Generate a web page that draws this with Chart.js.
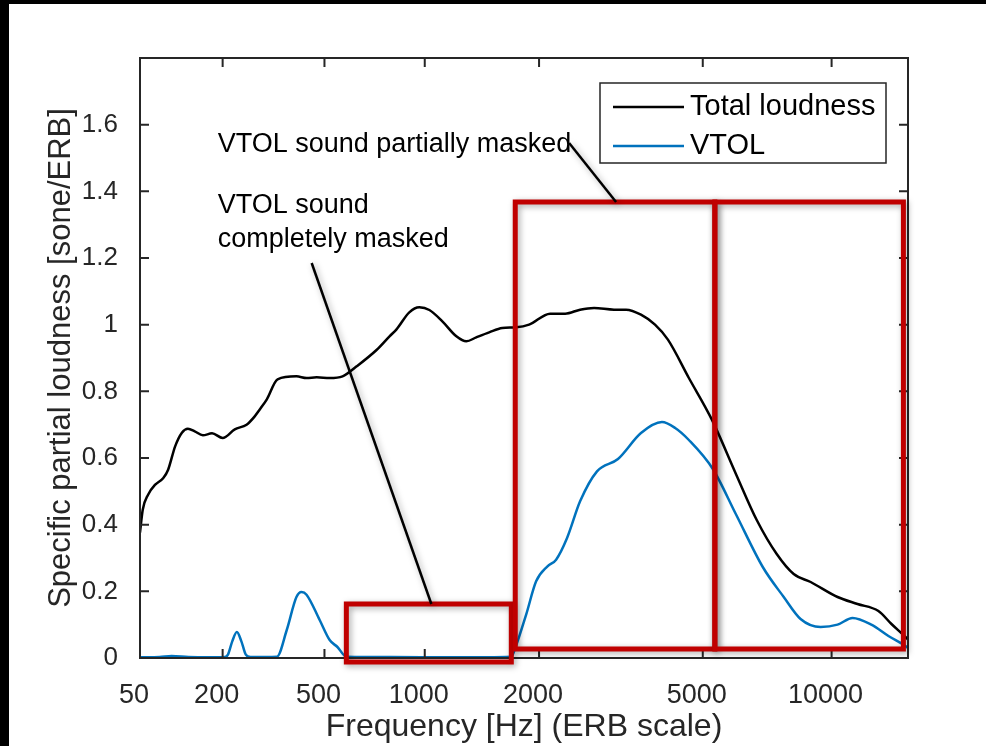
<!DOCTYPE html>
<html>
<head>
<meta charset="utf-8">
<script src="https://cdn.jsdelivr.net/npm/chart.js@4/dist/chart.umd.min.js"></script>
<style>
  html, body { margin: 0; padding: 0; background: #fff; }
  #chart { display: block; }
</style>
</head>
<body>
<canvas id="chart" width="986" height="746"></canvas>
<script>
// ===== DATA =====
const xTickFreqs = [50, 200, 500, 1000, 2000, 5000, 10000];
const yTicks = [0, 0.2, 0.4, 0.6, 0.8, 1, 1.2, 1.4, 1.6];

const totalFreq = [50, 54, 62, 73, 86, 94, 106, 118, 129, 142, 158, 177, 200, 228, 257, 278, 291, 311, 342, 401, 435, 471, 520, 572, 633, 727, 794, 832, 905, 966, 1030, 1118, 1220, 1297, 1378, 1490, 1611, 1750, 1887, 2132, 2325, 2531, 2740, 3065, 3277, 3561, 3848, 4132, 4635, 5254, 5982, 6697, 7457, 8168, 8943, 10322, 11478, 12827, 13744, 14800, 15000];
const totalLoudness = [0.376, 0.445, 0.49, 0.52, 0.54, 0.565, 0.635, 0.676, 0.688, 0.68, 0.668, 0.674, 0.66, 0.686, 0.70, 0.725, 0.745, 0.776, 0.836, 0.845, 0.84, 0.842, 0.84, 0.845, 0.875, 0.924, 0.965, 0.986, 1.037, 1.052, 1.044, 1.01, 0.965, 0.95, 0.962, 0.977, 0.99, 0.992, 1.0, 1.033, 1.033, 1.045, 1.05, 1.045, 1.045, 1.03, 1.0, 0.955, 0.84, 0.715, 0.553, 0.414, 0.312, 0.252, 0.228, 0.183, 0.162, 0.141, 0.102, 0.063, 0.055];

const vtolFreq = [50, 80, 100, 130, 170, 205, 212, 222, 233, 244, 255, 267, 340, 370, 401, 418, 435, 482, 520, 551, 588, 800, 1200, 1700, 1740, 1855, 1966, 2100, 2207, 2350, 2531, 2785, 3133, 3561, 3998, 4300, 4635, 5282, 5982, 6918, 7743, 8473, 9431, 10322, 11180, 12352, 13524, 14800, 15000];
const vtolLoudness = [0.002, 0.003, 0.006, 0.003, 0.002, 0.003, 0.01, 0.05, 0.078, 0.05, 0.01, 0.003, 0.004, 0.084, 0.183, 0.198, 0.19, 0.114, 0.054, 0.033, 0.004, 0.003, 0.002, 0.004, 0.03, 0.13, 0.23, 0.275, 0.295, 0.36, 0.47, 0.56, 0.597, 0.675, 0.708, 0.69, 0.654, 0.567, 0.432, 0.273, 0.183, 0.117, 0.093, 0.10, 0.12, 0.10, 0.066, 0.036, 0.03];

const seriesNames = ["Total loudness", "VTOL"];

// ERB-number (Cam) scale
const erb = f => 21.4 * Math.log10(1 + 0.00437 * f);

const FONT = '"Liberation Sans", Arial, Helvetica, sans-serif';
const AXIS_COLOR = "#262626";
const RED = "#c00000";

// ===== ANNOTATIONS (data coordinates: Hz, sone/ERB) =====
const boxes = [
  { f1: 588, f2: 1700, v1: -0.012, v2: 0.162 },
  { f1: 1740, f2: 5340, v1: 0.027, v2: 1.368 },
  { f1: 5340, f2: 14640, v1: 0.027, v2: 1.368 }
];
const pointers = [
  { f1: 2378, v1: 1.545, f2: 3100, v2: 1.368 },
  { f1: 453, v1: 1.185, f2: 1043, v2: 0.162 }
];
const notes = [
  { f: 189, v: 1.539, text: "VTOL sound partially masked" },
  { f: 189, v: 1.356, text: "VTOL sound" },
  { f: 189, v: 1.254, text: "completely masked" }
];

const framePlugin = {
  id: "frame",
  beforeDraw(chart) {
    const ctx = chart.ctx;
    ctx.save();
    ctx.fillStyle = "#fff";
    ctx.fillRect(0, 0, chart.width, chart.height);
    ctx.fillStyle = "#000";
    ctx.fillRect(0, 0, chart.width, 4);
    ctx.fillRect(0, 0, 9, chart.height);
    ctx.restore();
  },
  afterDraw(chart) {
    const ctx = chart.ctx;
    const xs = chart.scales.x, ys = chart.scales.y;
    const a = chart.chartArea;
    const px = f => xs.getPixelForValue(erb(f));
    const py = v => ys.getPixelForValue(v);

    ctx.save();
    // axes box + inward ticks
    ctx.strokeStyle = AXIS_COLOR;
    ctx.lineWidth = 2;
    ctx.strokeRect(a.left, a.top, a.right - a.left, a.bottom - a.top);
    ctx.beginPath();
    xs.ticks.forEach(t => {
      const x = xs.getPixelForValue(t.value);
      ctx.moveTo(x, a.bottom); ctx.lineTo(x, a.bottom - 9);
      ctx.moveTo(x, a.top); ctx.lineTo(x, a.top + 9);
    });
    ys.ticks.forEach(t => {
      const y = ys.getPixelForValue(t.value);
      ctx.moveTo(a.left, y); ctx.lineTo(a.left + 9, y);
      ctx.moveTo(a.right, y); ctx.lineTo(a.right - 9, y);
    });
    ctx.stroke();

    // red boxes
    ctx.shadowColor = "rgba(0,0,0,0.35)";
    ctx.shadowBlur = 6;
    ctx.shadowOffsetX = 2;
    ctx.shadowOffsetY = 2;
    ctx.strokeStyle = RED;
    ctx.lineWidth = 5;
    boxes.forEach(b => {
      ctx.strokeRect(px(b.f1), py(b.v2), px(b.f2) - px(b.f1), py(b.v1) - py(b.v2));
    });

    // pointer lines
    ctx.strokeStyle = "#000";
    ctx.lineWidth = 2.5;
    pointers.forEach(p => {
      ctx.beginPath();
      ctx.moveTo(px(p.f1), py(p.v1));
      ctx.lineTo(px(p.f2), py(p.v2));
      ctx.stroke();
    });
    ctx.shadowColor = "transparent";

    // notes
    ctx.fillStyle = "#000";
    ctx.font = "27px " + FONT;
    ctx.textBaseline = "middle";
    ctx.textAlign = "left";
    notes.forEach(n => ctx.fillText(n.text, px(n.f), py(n.v)));

    // legend
    const lx = 600, ly = 83, lw = 286, lh = 80;
    ctx.fillStyle = "#fff";
    ctx.fillRect(lx, ly, lw, lh);
    ctx.strokeStyle = AXIS_COLOR;
    ctx.lineWidth = 1.5;
    ctx.strokeRect(lx, ly, lw, lh);
    const colors = ["#000000", "#0072BD"];
    seriesNames.forEach((name, i) => {
      const y = ly + 24 + i * 39;
      ctx.strokeStyle = colors[i];
      ctx.lineWidth = 2.5;
      ctx.beginPath();
      ctx.moveTo(lx + 13, y);
      ctx.lineTo(lx + 84, y);
      ctx.stroke();
      ctx.fillStyle = "#000";
      ctx.font = "29px " + FONT;
      ctx.fillText(name, lx + 90, y);
    });
    ctx.restore();
  }
};

const chart = new Chart(document.getElementById("chart"), {
  type: "line",
  data: {
    datasets: [
      {
        label: seriesNames[0],
        data: totalFreq.map((f, i) => ({ x: erb(f), y: totalLoudness[i] })),
        borderColor: "#000000",
        borderWidth: 2.5,
        pointRadius: 0,
        cubicInterpolationMode: "monotone"
      },
      {
        label: seriesNames[1],
        data: vtolFreq.map((f, i) => ({ x: erb(f), y: vtolLoudness[i] })),
        borderColor: "#0072BD",
        borderWidth: 2.5,
        pointRadius: 0,
        cubicInterpolationMode: "monotone"
      }
    ]
  },
  options: {
    responsive: false,
    animation: false,
    layout: { padding: { left: 0, top: 58, right: 78, bottom: 0 } },
    plugins: { legend: { display: false }, tooltip: { enabled: false } },
    scales: {
      x: {
        type: "linear",
        min: erb(50),
        max: erb(15000),
        afterBuildTicks: s => { s.ticks = xTickFreqs.map(f => ({ value: erb(f) })); },
        afterFit: s => { s.height = 88; },
        grid: { display: false },
        border: { display: false },
        ticks: {
          autoSkip: false,
          maxRotation: 0,
          padding: 13,
          labelOffset: -6,
          color: AXIS_COLOR,
          font: { family: FONT, size: 27 },
          callback: (v, i) => String(xTickFreqs[i])
        },
        title: {
          display: true,
          text: "Frequency [Hz] (ERB scale)",
          color: AXIS_COLOR,
          font: { family: FONT, size: 32 },
          padding: { top: 0, bottom: 0 }
        }
      },
      y: {
        min: 0,
        max: 1.8,
        afterBuildTicks: s => { s.ticks = yTicks.map(v => ({ value: v })); },
        afterFit: s => { s.width = 140; },
        grid: { display: false },
        border: { display: false },
        ticks: {
          padding: 14,
          color: AXIS_COLOR,
          font: { family: FONT, size: 26 },
          callback: v => String(Math.round(v * 10) / 10)
        },
        title: {
          display: true,
          text: "Specific partial loudness [sone/ERB]",
          color: AXIS_COLOR,
          font: { family: FONT, size: 31 },
          padding: { top: 43, bottom: 0 }
        }
      }
    }
  },
  plugins: [framePlugin]
});
</script>
</body>
</html>
